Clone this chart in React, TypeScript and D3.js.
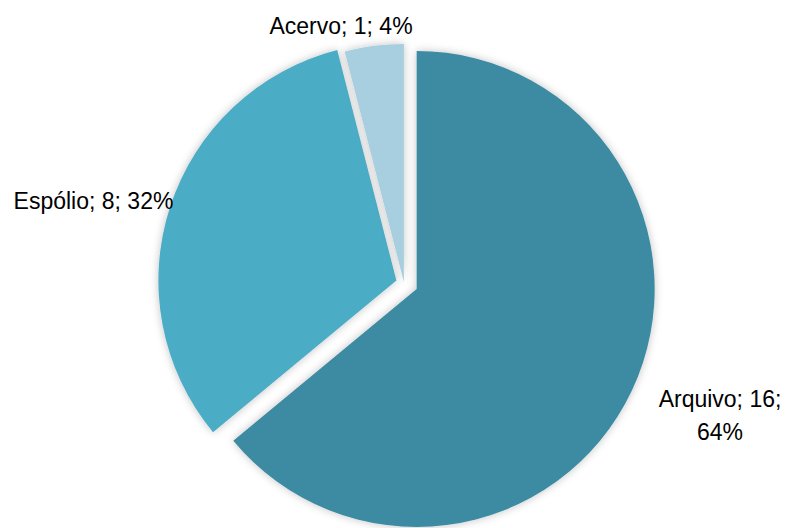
import React from "react";
import * as d3 from "d3";

const categories = ["Arquivo", "Espólio", "Acervo"];
const values = [16, 8, 1];
const colors = ["#3E8BA2", "#4BACC6", "#A7CFDF"];
const explode = [14, 8, 1];

const W = 788;
const H = 528;
const cx = 404;
const cy = 283;
const R = 238;

export default function App() {
  const total = d3.sum(values);
  const pie = d3
    .pie<number>()
    .sort(null)
    .startAngle(0)
    .endAngle(2 * Math.PI)
    .value((d) => d);
  const arcs = pie(values);
  const arc = d3.arc<d3.PieArcDatum<number>>().innerRadius(0).outerRadius(R);
  const pct = d3.format(".0%");

  const labelPos = [
    { x: 720, y: 407, lines: [`${categories[0]}; ${values[0]};`, pct(values[0] / total)] },
    { x: 93.5, y: 209, lines: [`${categories[1]}; ${values[1]}; ${pct(values[1] / total)}`] },
    { x: 341, y: 34, lines: [`${categories[2]}; ${values[2]}; ${pct(values[2] / total)}`] },
  ];

  return (
    <svg
      width={W}
      height={H}
      style={{ position: "absolute", left: 0, top: 0, display: "block" }}
    >
      <defs>
        <filter id="glow" x="-20%" y="-20%" width="140%" height="140%">
          <feGaussianBlur in="SourceAlpha" stdDeviation="4" result="blur" />
          <feFlood floodColor="#000" floodOpacity="0.24" />
          <feComposite in2="blur" operator="in" result="shadow" />
          <feMerge>
            <feMergeNode in="shadow" />
            <feMergeNode in="SourceGraphic" />
          </feMerge>
        </filter>
      </defs>
      <rect width={W} height={H} fill="#fff" />
      <g transform={`translate(${cx},${cy})`}>
        {arcs.map((a, i) => {
          const mid = (a.startAngle + a.endAngle) / 2;
          const dx = Math.sin(mid) * explode[i];
          const dy = -Math.cos(mid) * explode[i];
          return (
            <path
              key={categories[i]}
              d={arc(a) || ""}
              transform={`translate(${dx},${dy})`}
              fill={colors[i]}
              filter="url(#glow)"
            />
          );
        })}
      </g>
      {labelPos.map((l, i) => (
        <text
          key={i}
          x={l.x}
          y={l.y}
          textAnchor="middle"
          fontFamily="'Liberation Sans', Arial, sans-serif"
          fontSize={23}
          fill="#000"
        >
          {l.lines.map((t, j) => (
            <tspan key={j} x={l.x} dy={j === 0 ? 0 : 33}>
              {t}
            </tspan>
          ))}
        </text>
      ))}
    </svg>
  );
}
